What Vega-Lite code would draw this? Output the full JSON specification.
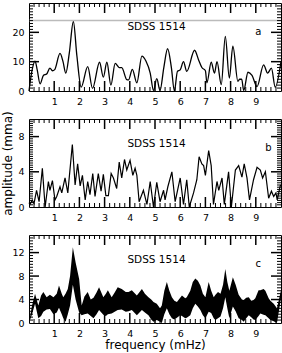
{
  "$schema": "https://vega.github.io/schema/vega-lite/v6.json",
  "padding": {"left": 1, "top": 2, "right": 2, "bottom": 2},
  "spacing": 28,
  "bounds": "flush",
  "datasets": {
    "xmaj": [{"v":1},{"v":2},{"v":3},{"v":4},{"v":5},{"v":6},{"v":7},{"v":8},{"v":9}],
    "xmin": [{"v":0.2},{"v":0.4},{"v":0.6},{"v":0.8},{"v":1.2},{"v":1.4},{"v":1.6},{"v":1.8},{"v":2.2},{"v":2.4},{"v":2.6},{"v":2.8},{"v":3.2},{"v":3.4},{"v":3.6},{"v":3.8},{"v":4.2},{"v":4.4},{"v":4.6},{"v":4.8},{"v":5.2},{"v":5.4},{"v":5.6},{"v":5.8},{"v":6.2},{"v":6.4},{"v":6.6},{"v":6.8},{"v":7.2},{"v":7.4},{"v":7.6},{"v":7.8},{"v":8.2},{"v":8.4},{"v":8.6},{"v":8.8},{"v":9.2},{"v":9.4},{"v":9.6},{"v":9.8}],
    "ya_maj": [{"v":10},{"v":20}],
    "ya_min": [{"v":1},{"v":2},{"v":3},{"v":4},{"v":5},{"v":6},{"v":7},{"v":8},{"v":9},{"v":11},{"v":12},{"v":13},{"v":14},{"v":15},{"v":16},{"v":17},{"v":18},{"v":19},{"v":21},{"v":22},{"v":23},{"v":24},{"v":25},{"v":26},{"v":27},{"v":28},{"v":29}],
    "yb_maj": [{"v":4},{"v":8}],
    "yb_min": [{"v":0.25},{"v":0.5},{"v":0.75},{"v":1},{"v":1.25},{"v":1.5},{"v":1.75},{"v":2},{"v":2.25},{"v":2.5},{"v":2.75},{"v":3},{"v":3.25},{"v":3.5},{"v":3.75},{"v":4.25},{"v":4.5},{"v":4.75},{"v":5},{"v":5.25},{"v":5.5},{"v":5.75},{"v":6},{"v":6.25},{"v":6.5},{"v":6.75},{"v":7},{"v":7.25},{"v":7.5},{"v":7.75},{"v":8.25},{"v":8.5},{"v":8.75},{"v":9},{"v":9.25},{"v":9.5},{"v":9.75}],
    "yc_maj": [{"v":4},{"v":8},{"v":12}],
    "yc_min": [{"v":0.5},{"v":1},{"v":1.5},{"v":2},{"v":2.5},{"v":3},{"v":3.5},{"v":4.5},{"v":5},{"v":5.5},{"v":6},{"v":6.5},{"v":7},{"v":7.5},{"v":8.5},{"v":9},{"v":9.5},{"v":10},{"v":10.5},{"v":11},{"v":11.5},{"v":12.5},{"v":13},{"v":13.5},{"v":14},{"v":14.5}],
    "a": [
      {"f":0,"amp":0},{"f":0.12,"amp":7},{"f":0.24,"amp":10.2},{"f":0.33,"amp":7},{"f":0.44,"amp":2.4},{"f":0.57,"amp":5.3},{"f":0.7,"amp":5.8},{"f":0.83,"amp":7.8},{"f":0.93,"amp":6.9},{"f":1.02,"amp":7.3},{"f":1.23,"amp":12.8},{"f":1.35,"amp":10},{"f":1.46,"amp":6.1},{"f":1.6,"amp":13},{"f":1.76,"amp":23.7},{"f":1.9,"amp":12},{"f":2.07,"amp":1.3},{"f":2.33,"amp":8.3},{"f":2.52,"amp":0.9},{"f":2.8,"amp":9.8},{"f":2.95,"amp":4.7},{"f":3.09,"amp":9.8},{"f":3.25,"amp":2},{"f":3.42,"amp":9.4},{"f":3.58,"amp":8},{"f":3.68,"amp":8},{"f":3.88,"amp":3.9},{"f":3.95,"amp":3.8},{"f":4.1,"amp":7.4},{"f":4.28,"amp":2.8},{"f":4.48,"amp":11.9},{"f":4.64,"amp":10.2},{"f":4.81,"amp":6.1},{"f":4.94,"amp":0.2},{"f":5.07,"amp":4.2},{"f":5.2,"amp":0.2},{"f":5.35,"amp":8},{"f":5.5,"amp":14.4},{"f":5.65,"amp":8},{"f":5.77,"amp":0},{"f":5.89,"amp":6.7},{"f":6.0,"amp":7.2},{"f":6.13,"amp":10},{"f":6.26,"amp":6.7},{"f":6.57,"amp":13.9},{"f":6.73,"amp":10.6},{"f":6.86,"amp":8},{"f":7.0,"amp":6.9},{"f":7.06,"amp":2.8},{"f":7.23,"amp":9.8},{"f":7.36,"amp":6.1},{"f":7.46,"amp":10},{"f":7.63,"amp":2.2},{"f":7.79,"amp":18.6},{"f":7.95,"amp":4.4},{"f":8.09,"amp":15.3},{"f":8.29,"amp":3.3},{"f":8.36,"amp":4},{"f":8.44,"amp":4},{"f":8.52,"amp":0.2},{"f":8.69,"amp":6.4},{"f":8.85,"amp":5.3},{"f":9.05,"amp":1.5},{"f":9.31,"amp":8.9},{"f":9.47,"amp":6.1},{"f":9.62,"amp":7.8},{"f":9.77,"amp":1.3},{"f":10.0,"amp":10}
    ],
    "b": [
      {"f":0,"amp":0.5},{"f":0.04,"amp":0.3},{"f":0.13,"amp":0.8},{"f":0.2,"amp":0.4},{"f":0.3,"amp":1.9},{"f":0.4,"amp":0.6},{"f":0.53,"amp":4.4},{"f":0.64,"amp":0},{"f":0.77,"amp":2.9},{"f":0.83,"amp":1.9},{"f":0.93,"amp":3.0},{"f":1.03,"amp":0.8},{"f":1.1,"amp":1.2},{"f":1.23,"amp":2.3},{"f":1.3,"amp":1.6},{"f":1.43,"amp":3.3},{"f":1.54,"amp":1.6},{"f":1.72,"amp":7.1},{"f":1.83,"amp":2.5},{"f":1.93,"amp":4.9},{"f":2.03,"amp":2.4},{"f":2.12,"amp":3.6},{"f":2.23,"amp":0.8},{"f":2.33,"amp":2.9},{"f":2.42,"amp":1.4},{"f":2.53,"amp":3.8},{"f":2.62,"amp":1.2},{"f":2.75,"amp":3.8},{"f":2.86,"amp":1.8},{"f":2.95,"amp":3.7},{"f":3.05,"amp":1.3},{"f":3.15,"amp":1.3},{"f":3.26,"amp":3.8},{"f":3.35,"amp":3.3},{"f":3.48,"amp":2.1},{"f":3.58,"amp":5.1},{"f":3.68,"amp":3.3},{"f":3.79,"amp":5.4},{"f":3.88,"amp":4.2},{"f":4.01,"amp":5.3},{"f":4.12,"amp":3.6},{"f":4.21,"amp":4.4},{"f":4.28,"amp":3.6},{"f":4.37,"amp":0.6},{"f":4.54,"amp":1.9},{"f":4.68,"amp":0.3},{"f":4.81,"amp":2.9},{"f":4.94,"amp":0},{"f":5.07,"amp":2.8},{"f":5.2,"amp":0.6},{"f":5.34,"amp":1.9},{"f":5.4,"amp":0.8},{"f":5.51,"amp":2.3},{"f":5.67,"amp":4.0},{"f":5.8,"amp":0.6},{"f":6.0,"amp":3.3},{"f":6.13,"amp":0.3},{"f":6.26,"amp":3.1},{"f":6.36,"amp":0},{"f":6.53,"amp":1.6},{"f":6.66,"amp":3.1},{"f":6.75,"amp":5.7},{"f":6.86,"amp":4.9},{"f":6.93,"amp":4.7},{"f":7.0,"amp":3.6},{"f":7.13,"amp":6.4},{"f":7.23,"amp":4.7},{"f":7.32,"amp":0.3},{"f":7.46,"amp":2.9},{"f":7.53,"amp":1.9},{"f":7.66,"amp":3.3},{"f":7.75,"amp":0.3},{"f":7.92,"amp":4.0},{"f":8.03,"amp":0},{"f":8.19,"amp":4.2},{"f":8.32,"amp":4.7},{"f":8.45,"amp":3.4},{"f":8.54,"amp":4.9},{"f":8.65,"amp":3.3},{"f":8.75,"amp":0.8},{"f":8.91,"amp":3.1},{"f":9.05,"amp":4.5},{"f":9.18,"amp":4.2},{"f":9.27,"amp":3.3},{"f":9.38,"amp":4.0},{"f":9.51,"amp":1.0},{"f":9.62,"amp":1.8},{"f":9.71,"amp":1.2},{"f":9.8,"amp":1.6},{"f":9.85,"amp":0.8},{"f":9.97,"amp":2.4},{"f":10,"amp":2.5}
    ],
    "c": [
      {"f":0,"hi":0,"lo":0},{"f":0.12,"hi":3,"lo":1.5},{"f":0.24,"hi":5,"lo":3.3},{"f":0.37,"hi":3,"lo":0.8},{"f":0.48,"hi":4.7,"lo":1.2},{"f":0.57,"hi":5.3,"lo":1.9},{"f":0.7,"hi":4.4,"lo":2.3},{"f":0.83,"hi":4.8,"lo":2.4},{"f":0.97,"hi":4.4,"lo":1.5},{"f":1.1,"hi":5,"lo":1.8},{"f":1.19,"hi":6.4,"lo":2.6},{"f":1.3,"hi":5,"lo":1.5},{"f":1.36,"hi":4.4,"lo":0.8},{"f":1.45,"hi":5,"lo":0.2},{"f":1.54,"hi":5.8,"lo":1.5},{"f":1.63,"hi":8,"lo":3},{"f":1.74,"hi":12.9,"lo":6.5},{"f":1.85,"hi":10.3,"lo":4},{"f":1.99,"hi":7.5,"lo":1.8},{"f":2.09,"hi":3,"lo":1.3},{"f":2.2,"hi":4.5,"lo":1.5},{"f":2.33,"hi":5.3,"lo":1.6},{"f":2.45,"hi":4,"lo":1.2},{"f":2.56,"hi":4.3,"lo":0.8},{"f":2.68,"hi":5.2,"lo":1.5},{"f":2.78,"hi":6.1,"lo":2.2},{"f":2.95,"hi":4.4,"lo":1.4},{"f":3.05,"hi":5,"lo":1.2},{"f":3.13,"hi":5.6,"lo":1.5},{"f":3.28,"hi":4.4,"lo":1.6},{"f":3.4,"hi":5.2,"lo":1.9},{"f":3.52,"hi":6.1,"lo":2.2},{"f":3.68,"hi":5.8,"lo":2.3},{"f":3.84,"hi":5.3,"lo":1.9},{"f":3.95,"hi":5.3,"lo":2},{"f":4.08,"hi":5.6,"lo":2.2},{"f":4.28,"hi":4.7,"lo":1.3},{"f":4.48,"hi":5.8,"lo":2.2},{"f":4.6,"hi":5,"lo":1.8},{"f":4.74,"hi":4.4,"lo":1.3},{"f":4.85,"hi":4,"lo":0.6},{"f":4.94,"hi":3.6,"lo":0.2},{"f":5.07,"hi":3.3,"lo":0.5},{"f":5.2,"hi":2.5,"lo":0.2},{"f":5.27,"hi":3,"lo":0},{"f":5.37,"hi":5.5,"lo":1.5},{"f":5.47,"hi":7.0,"lo":2.5},{"f":5.57,"hi":5.5,"lo":1.5},{"f":5.67,"hi":4.4,"lo":0.8},{"f":5.77,"hi":3.8,"lo":0.6},{"f":5.87,"hi":3.6,"lo":0.9},{"f":6.0,"hi":4.3,"lo":1.3},{"f":6.07,"hi":4.7,"lo":1.2},{"f":6.2,"hi":4.2,"lo":0.8},{"f":6.26,"hi":4.4,"lo":0.9},{"f":6.4,"hi":5.5,"lo":1.3},{"f":6.5,"hi":7,"lo":2.5},{"f":6.6,"hi":7.6,"lo":3.3},{"f":6.7,"hi":7.2,"lo":2.8},{"f":6.8,"hi":6.4,"lo":2.2},{"f":6.9,"hi":5,"lo":1.3},{"f":7.0,"hi":4.4,"lo":0.8},{"f":7.13,"hi":7.0,"lo":1.9},{"f":7.23,"hi":5.5,"lo":1.7},{"f":7.33,"hi":4.4,"lo":0.8},{"f":7.4,"hi":4.8,"lo":0.5},{"f":7.5,"hi":5.3,"lo":0.8},{"f":7.6,"hi":5,"lo":1.1},{"f":7.7,"hi":6.5,"lo":2.5},{"f":7.79,"hi":9.2,"lo":4.4},{"f":7.87,"hi":7,"lo":2.5},{"f":7.95,"hi":5.5,"lo":0.8},{"f":8.09,"hi":7.8,"lo":2.8},{"f":8.2,"hi":6.5,"lo":2},{"f":8.32,"hi":4.8,"lo":0.8},{"f":8.45,"hi":4,"lo":0.5},{"f":8.52,"hi":3.9,"lo":0.2},{"f":8.62,"hi":4.3,"lo":0.8},{"f":8.72,"hi":4.4,"lo":1.3},{"f":8.82,"hi":3.8,"lo":1},{"f":8.91,"hi":3.9,"lo":0.6},{"f":8.98,"hi":4.2,"lo":0.5},{"f":9.11,"hi":5.6,"lo":1.2},{"f":9.18,"hi":5.6,"lo":1.6},{"f":9.31,"hi":5.8,"lo":1.4},{"f":9.38,"hi":5.5,"lo":1.3},{"f":9.51,"hi":4.2,"lo":0.8},{"f":9.58,"hi":3.8,"lo":0.5},{"f":9.71,"hi":3.3,"lo":0.3},{"f":9.84,"hi":2.5,"lo":0},{"f":10,"hi":5.6,"lo":4.2}
    ]
  },
  "vconcat": [
    {
      "width": 252, "height": 88,
      "layer": [
        {"data": {"name": "a"}, "mark": {"type": "line", "color": "black", "strokeWidth": 1.3, "interpolate": "monotone"},
         "encoding": {
           "x": {"field": "f", "type": "quantitative", "scale": {"domain": [0, 10], "nice": false, "zero": false},
                 "axis": {"values": [1,2,3,4,5,6,7,8,9], "ticks": false, "labelPadding": 5, "title": null}},
           "y": {"field": "amp", "type": "quantitative", "scale": {"domain": [0, 30], "nice": false},
                 "axis": {"values": [0,10,20], "ticks": false, "labelPadding": 5, "title": null}}}},
        {"data": {"values": [{}]}, "mark": {"type": "rule", "color": "#bbbbbb", "strokeWidth": 1.5},
         "encoding": {"y": {"datum": 24, "type": "quantitative", "axis": null}}},
        {"data": {"name": "xmaj"}, "mark": {"type": "tick", "orient": "vertical", "color": "black", "opacity": 1, "size": 10, "thickness": 1.5, "yOffset": -5},
         "encoding": {"x": {"field": "v", "type": "quantitative", "axis": null}, "y": {"datum": 0, "type": "quantitative", "axis": null}}},
        {"data": {"name": "xmaj"}, "mark": {"type": "tick", "orient": "vertical", "color": "black", "opacity": 1, "size": 10, "thickness": 1.5, "yOffset": 5},
         "encoding": {"x": {"field": "v", "type": "quantitative", "axis": null}, "y": {"datum": 30, "type": "quantitative", "axis": null}}},
        {"data": {"name": "xmin"}, "mark": {"type": "tick", "orient": "vertical", "color": "black", "opacity": 1, "size": 4, "thickness": 1, "yOffset": -2},
         "encoding": {"x": {"field": "v", "type": "quantitative", "axis": null}, "y": {"datum": 0, "type": "quantitative", "axis": null}}},
        {"data": {"name": "xmin"}, "mark": {"type": "tick", "orient": "vertical", "color": "black", "opacity": 1, "size": 4, "thickness": 1, "yOffset": 2},
         "encoding": {"x": {"field": "v", "type": "quantitative", "axis": null}, "y": {"datum": 30, "type": "quantitative", "axis": null}}},
        {"data": {"name": "ya_maj"}, "mark": {"type": "tick", "orient": "horizontal", "color": "black", "opacity": 1, "size": 10, "thickness": 1.5, "xOffset": 5},
         "encoding": {"y": {"field": "v", "type": "quantitative", "axis": null}, "x": {"datum": 0, "type": "quantitative", "axis": null}}},
        {"data": {"name": "ya_maj"}, "mark": {"type": "tick", "orient": "horizontal", "color": "black", "opacity": 1, "size": 10, "thickness": 1.5, "xOffset": -5},
         "encoding": {"y": {"field": "v", "type": "quantitative", "axis": null}, "x": {"datum": 10, "type": "quantitative", "axis": null}}},
        {"data": {"name": "ya_min"}, "mark": {"type": "tick", "orient": "horizontal", "color": "black", "opacity": 1, "size": 4, "thickness": 1, "xOffset": 2},
         "encoding": {"y": {"field": "v", "type": "quantitative", "axis": null}, "x": {"datum": 0, "type": "quantitative", "axis": null}}},
        {"data": {"name": "ya_min"}, "mark": {"type": "tick", "orient": "horizontal", "color": "black", "opacity": 1, "size": 4, "thickness": 1, "xOffset": -2},
         "encoding": {"y": {"field": "v", "type": "quantitative", "axis": null}, "x": {"datum": 10, "type": "quantitative", "axis": null}}},
        {"data": {"values": [{}]}, "mark": {"type": "text", "fontSize": 10.5, "font": "DejaVu Sans", "color": "black"},
         "encoding": {"x": {"datum": 5.06, "type": "quantitative", "axis": null}, "y": {"datum": 21.8, "type": "quantitative", "axis": null}, "text": {"value": "SDSS 1514"}}},
        {"data": {"values": [{}]}, "mark": {"type": "text", "fontSize": 10, "font": "DejaVu Sans", "color": "black"},
         "encoding": {"x": {"datum": 9.1, "type": "quantitative", "axis": null}, "y": {"datum": 20.1, "type": "quantitative", "axis": null}, "text": {"value": "a"}}}
      ],
      "resolve": {"axis": {"x": "independent", "y": "independent"}}
    },
    {
      "width": 252, "height": 88,
      "layer": [
        {"data": {"name": "b"}, "mark": {"type": "line", "color": "black", "strokeWidth": 1.2},
         "encoding": {
           "x": {"field": "f", "type": "quantitative", "scale": {"domain": [0, 10], "nice": false, "zero": false},
                 "axis": {"values": [1,2,3,4,5,6,7,8,9], "ticks": false, "labelPadding": 5, "title": null}},
           "y": {"field": "amp", "type": "quantitative", "scale": {"domain": [0, 10], "nice": false},
                 "axis": {"values": [0,4,8], "ticks": false, "labelPadding": 5, "title": "amplitude (mma)", "titlePadding": 3}}}},
        {"data": {"name": "xmaj"}, "mark": {"type": "tick", "orient": "vertical", "color": "black", "opacity": 1, "size": 10, "thickness": 1.5, "yOffset": -5},
         "encoding": {"x": {"field": "v", "type": "quantitative", "axis": null}, "y": {"datum": 0, "type": "quantitative", "axis": null}}},
        {"data": {"name": "xmaj"}, "mark": {"type": "tick", "orient": "vertical", "color": "black", "opacity": 1, "size": 10, "thickness": 1.5, "yOffset": 5},
         "encoding": {"x": {"field": "v", "type": "quantitative", "axis": null}, "y": {"datum": 10, "type": "quantitative", "axis": null}}},
        {"data": {"name": "xmin"}, "mark": {"type": "tick", "orient": "vertical", "color": "black", "opacity": 1, "size": 4, "thickness": 1, "yOffset": -2},
         "encoding": {"x": {"field": "v", "type": "quantitative", "axis": null}, "y": {"datum": 0, "type": "quantitative", "axis": null}}},
        {"data": {"name": "xmin"}, "mark": {"type": "tick", "orient": "vertical", "color": "black", "opacity": 1, "size": 4, "thickness": 1, "yOffset": 2},
         "encoding": {"x": {"field": "v", "type": "quantitative", "axis": null}, "y": {"datum": 10, "type": "quantitative", "axis": null}}},
        {"data": {"name": "yb_maj"}, "mark": {"type": "tick", "orient": "horizontal", "color": "black", "opacity": 1, "size": 10, "thickness": 1.5, "xOffset": 5},
         "encoding": {"y": {"field": "v", "type": "quantitative", "axis": null}, "x": {"datum": 0, "type": "quantitative", "axis": null}}},
        {"data": {"name": "yb_maj"}, "mark": {"type": "tick", "orient": "horizontal", "color": "black", "opacity": 1, "size": 10, "thickness": 1.5, "xOffset": -5},
         "encoding": {"y": {"field": "v", "type": "quantitative", "axis": null}, "x": {"datum": 10, "type": "quantitative", "axis": null}}},
        {"data": {"name": "yb_min"}, "mark": {"type": "tick", "orient": "horizontal", "color": "black", "opacity": 1, "size": 4, "thickness": 1, "xOffset": 2},
         "encoding": {"y": {"field": "v", "type": "quantitative", "axis": null}, "x": {"datum": 0, "type": "quantitative", "axis": null}}},
        {"data": {"name": "yb_min"}, "mark": {"type": "tick", "orient": "horizontal", "color": "black", "opacity": 1, "size": 4, "thickness": 1, "xOffset": -2},
         "encoding": {"y": {"field": "v", "type": "quantitative", "axis": null}, "x": {"datum": 10, "type": "quantitative", "axis": null}}},
        {"data": {"values": [{}]}, "mark": {"type": "text", "fontSize": 10.5, "font": "DejaVu Sans", "color": "black"},
         "encoding": {"x": {"datum": 5.06, "type": "quantitative", "axis": null}, "y": {"datum": 7.2, "type": "quantitative", "axis": null}, "text": {"value": "SDSS 1514"}}},
        {"data": {"values": [{}]}, "mark": {"type": "text", "fontSize": 10, "font": "DejaVu Sans", "color": "black"},
         "encoding": {"x": {"datum": 9.5, "type": "quantitative", "axis": null}, "y": {"datum": 6.7, "type": "quantitative", "axis": null}, "text": {"value": "b"}}}
      ],
      "resolve": {"axis": {"x": "independent", "y": "independent"}}
    },
    {
      "width": 252, "height": 88,
      "layer": [
        {"data": {"name": "c"}, "mark": {"type": "area", "color": "black", "opacity": 1},
         "encoding": {
           "x": {"field": "f", "type": "quantitative", "scale": {"domain": [0, 10], "nice": false, "zero": false},
                 "axis": {"values": [1,2,3,4,5,6,7,8,9], "ticks": false, "labelPadding": 5, "title": "frequency (mHz)", "titlePadding": 2}},
           "y": {"field": "hi", "type": "quantitative", "scale": {"domain": [0, 15], "nice": false},
                 "axis": {"values": [0,4,8,12], "ticks": false, "labelPadding": 5, "title": null}},
           "y2": {"field": "lo"}}},
        {"data": {"name": "xmaj"}, "mark": {"type": "tick", "orient": "vertical", "color": "black", "opacity": 1, "size": 10, "thickness": 1.5, "yOffset": -5},
         "encoding": {"x": {"field": "v", "type": "quantitative", "axis": null}, "y": {"datum": 0, "type": "quantitative", "axis": null}}},
        {"data": {"name": "xmaj"}, "mark": {"type": "tick", "orient": "vertical", "color": "black", "opacity": 1, "size": 10, "thickness": 1.5, "yOffset": 5},
         "encoding": {"x": {"field": "v", "type": "quantitative", "axis": null}, "y": {"datum": 15, "type": "quantitative", "axis": null}}},
        {"data": {"name": "xmin"}, "mark": {"type": "tick", "orient": "vertical", "color": "black", "opacity": 1, "size": 4, "thickness": 1, "yOffset": -2},
         "encoding": {"x": {"field": "v", "type": "quantitative", "axis": null}, "y": {"datum": 0, "type": "quantitative", "axis": null}}},
        {"data": {"name": "xmin"}, "mark": {"type": "tick", "orient": "vertical", "color": "black", "opacity": 1, "size": 4, "thickness": 1, "yOffset": 2},
         "encoding": {"x": {"field": "v", "type": "quantitative", "axis": null}, "y": {"datum": 15, "type": "quantitative", "axis": null}}},
        {"data": {"name": "yc_maj"}, "mark": {"type": "tick", "orient": "horizontal", "color": "black", "opacity": 1, "size": 10, "thickness": 1.5, "xOffset": 5},
         "encoding": {"y": {"field": "v", "type": "quantitative", "axis": null}, "x": {"datum": 0, "type": "quantitative", "axis": null}}},
        {"data": {"name": "yc_maj"}, "mark": {"type": "tick", "orient": "horizontal", "color": "black", "opacity": 1, "size": 10, "thickness": 1.5, "xOffset": -5},
         "encoding": {"y": {"field": "v", "type": "quantitative", "axis": null}, "x": {"datum": 10, "type": "quantitative", "axis": null}}},
        {"data": {"name": "yc_min"}, "mark": {"type": "tick", "orient": "horizontal", "color": "black", "opacity": 1, "size": 4, "thickness": 1, "xOffset": 2},
         "encoding": {"y": {"field": "v", "type": "quantitative", "axis": null}, "x": {"datum": 0, "type": "quantitative", "axis": null}}},
        {"data": {"name": "yc_min"}, "mark": {"type": "tick", "orient": "horizontal", "color": "black", "opacity": 1, "size": 4, "thickness": 1, "xOffset": -2},
         "encoding": {"y": {"field": "v", "type": "quantitative", "axis": null}, "x": {"datum": 10, "type": "quantitative", "axis": null}}},
        {"data": {"values": [{}]}, "mark": {"type": "text", "fontSize": 10.5, "font": "DejaVu Sans", "color": "black"},
         "encoding": {"x": {"datum": 5.06, "type": "quantitative", "axis": null}, "y": {"datum": 10.7, "type": "quantitative", "axis": null}, "text": {"value": "SDSS 1514"}}},
        {"data": {"values": [{}]}, "mark": {"type": "text", "fontSize": 10, "font": "DejaVu Sans", "color": "black"},
         "encoding": {"x": {"datum": 9.1, "type": "quantitative", "axis": null}, "y": {"datum": 10.1, "type": "quantitative", "axis": null}, "text": {"value": "c"}}}
      ],
      "resolve": {"axis": {"x": "independent", "y": "independent"}}
    }
  ],
  "config": {
    "view": {"stroke": "black", "strokeWidth": 1},
    "font": "DejaVu Sans",
    "axis": {"domain": false, "grid": false, "labelFont": "DejaVu Sans", "labelFontSize": 9.5, "labelColor": "black", "labelFlush": false, "labelOverlap": false, "titleFont": "DejaVu Sans", "titleFontSize": 12, "titleFontWeight": "normal", "titleColor": "black"}
  }
}
